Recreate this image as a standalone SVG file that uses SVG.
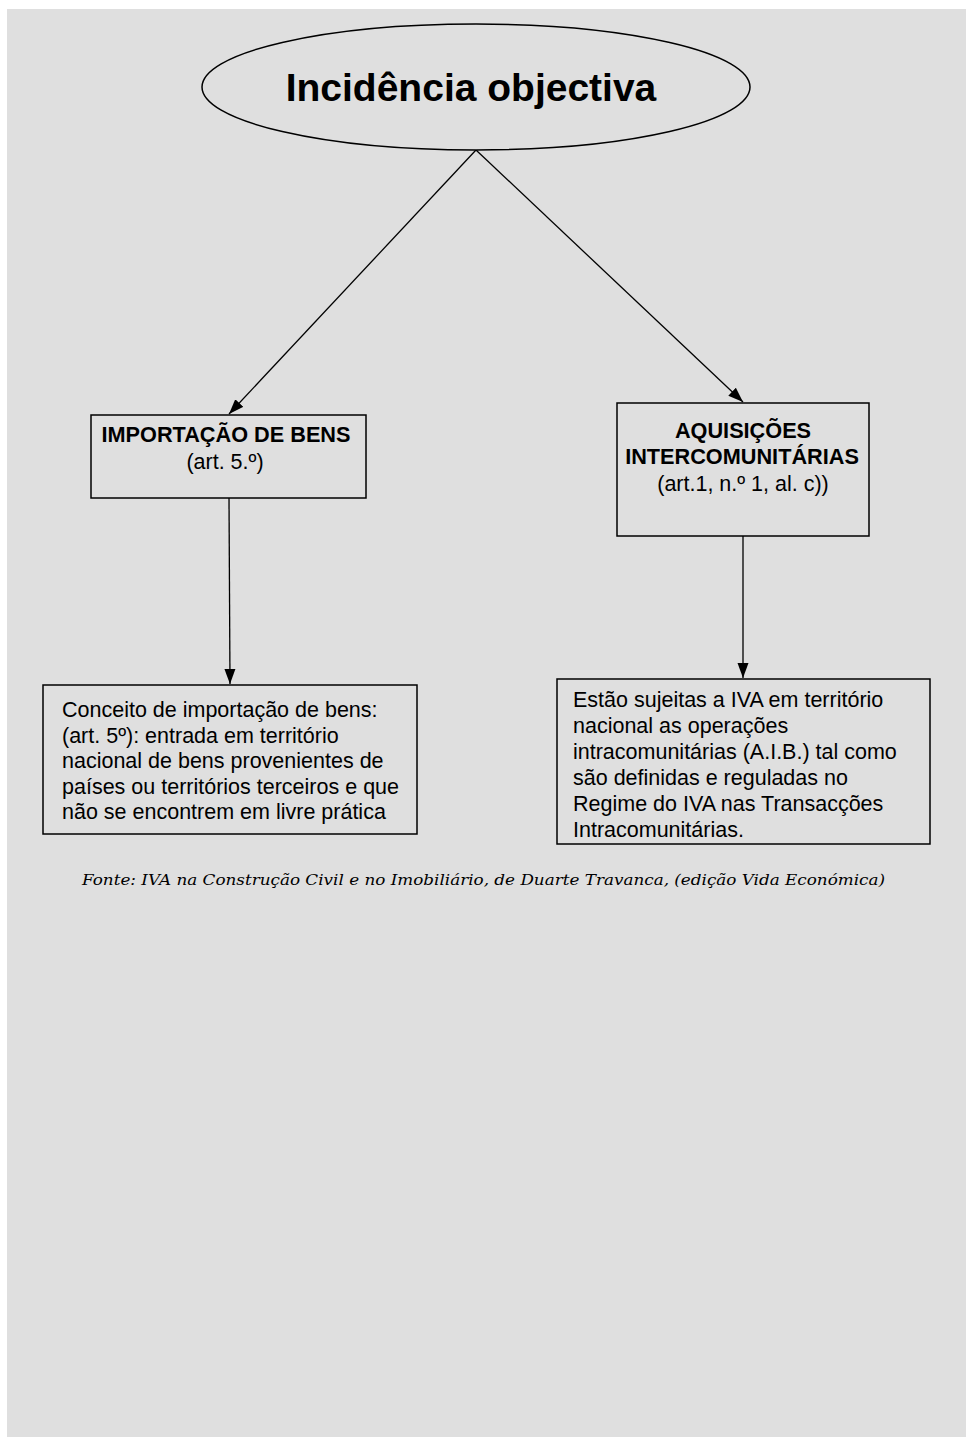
<svg xmlns="http://www.w3.org/2000/svg" width="966" height="1437" viewBox="0 0 966 1437">
<style>
.box{fill:#dfdfdf;stroke:#000;stroke-width:1.5}
.conn{stroke:#000;stroke-width:1.3;fill:none;marker-end:url(#arr)}
.b{font-family:"Liberation Sans",Arial,sans-serif;font-weight:bold;font-size:21.7px;fill:#000;text-anchor:middle}
.r{font-family:"Liberation Sans",Arial,sans-serif;font-size:21.5px;fill:#000}
.rc{text-anchor:middle}
.cap{font-family:"DejaVu Serif","Liberation Serif",serif;font-style:italic;font-size:15px;fill:#000}
</style>
<defs>
<marker id="arr" markerUnits="userSpaceOnUse" markerWidth="16" markerHeight="12" refX="15" refY="6" orient="auto">
<path d="M0,0.5 L15,6 L0,11.5 z" fill="#000"/>
</marker>
</defs>
<rect x="0" y="0" width="966" height="1437" fill="#ffffff"/>
<rect x="7" y="9" width="959" height="1428" fill="#dfdfdf"/>
<g id="connectors">
<line class="conn" x1="476" y1="150" x2="229" y2="414"/>
<line class="conn" x1="476" y1="150" x2="743" y2="402"/>
<line class="conn" x1="229" y1="498" x2="230" y2="684"/>
<line class="conn" x1="743" y1="536" x2="743" y2="678"/>
</g>
<g id="n-incidencia">
<ellipse class="box" cx="476" cy="87" rx="274" ry="63"/>
<text x="471" y="101" style="font-family:'Liberation Sans',Arial,sans-serif;font-weight:bold;font-size:39px;text-anchor:middle">Incidência objectiva</text>
</g>
<g id="n-importacao">
<rect class="box" x="91" y="415" width="275" height="83"/>
<text class="b" x="226" y="442">IMPORTAÇÃO DE BENS</text>
<text class="r rc" x="225" y="469">(art. 5.º)</text>
</g>
<g id="n-aquisicoes">
<rect class="box" x="617" y="403" width="252" height="133"/>
<text class="b" x="743" y="438">AQUISIÇÕES</text>
<text class="b" x="742" y="464">INTERCOMUNITÁRIAS</text>
<text class="r rc" x="743" y="491">(art.1, n.º 1, al. c))</text>
</g>
<g id="n-conceito">
<rect class="box" x="43" y="685" width="374" height="149"/>
<text class="r" x="62" y="717">Conceito de importação de bens:</text>
<text class="r" x="62" y="742.5">(art. 5º): entrada em território</text>
<text class="r" x="62" y="768">nacional de bens provenientes de</text>
<text class="r" x="62" y="793.5">países ou territórios terceiros e que</text>
<text class="r" x="62" y="819">não se encontrem em livre prática</text>
</g>
<g id="n-sujeitas">
<rect class="box" x="557" y="679" width="373" height="165"/>
<text class="r" x="573" y="707">Estão sujeitas a IVA em território</text>
<text class="r" x="573" y="733">nacional as operações</text>
<text class="r" x="573" y="759">intracomunitárias (A.I.B.) tal como</text>
<text class="r" x="573" y="785">são definidas e reguladas no</text>
<text class="r" x="573" y="811">Regime do IVA nas Transacções</text>
<text class="r" x="573" y="837">Intracomunitárias.</text>
</g>
<g id="caption">
<text class="cap" x="82" y="885" textLength="803" lengthAdjust="spacingAndGlyphs">Fonte: IVA na Construção Civil e no Imobiliário, de Duarte Travanca, (edição Vida Económica)</text>
</g>
</svg>
